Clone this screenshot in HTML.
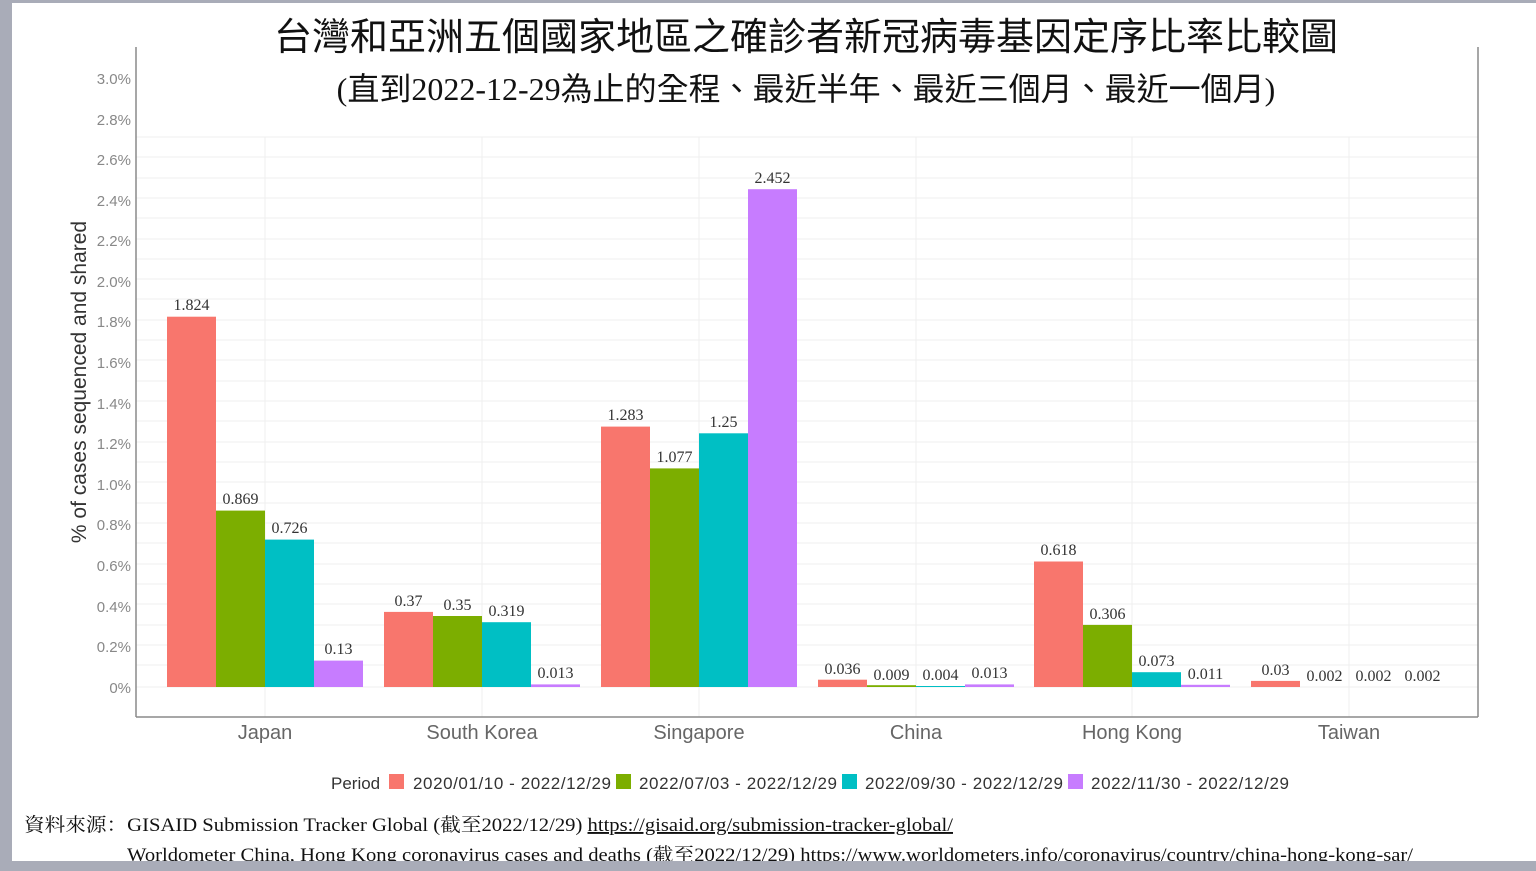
<!DOCTYPE html>
<html><head><meta charset="utf-8"><style>
html,body{margin:0;padding:0;background:#a9acb8;}
svg{display:block}
</style></head><body>
<svg width="1536" height="871" xmlns="http://www.w3.org/2000/svg">
<rect x="0" y="0" width="1536" height="871" fill="#a9acb8"/>
<rect x="12" y="3" width="1524" height="858" fill="#fff"/>
<g stroke="#efefef" stroke-width="1">
<line x1="136" x2="1478" y1="137" y2="137"/><line x1="136" x2="1478" y1="157" y2="157"/><line x1="136" x2="1478" y1="178" y2="178"/><line x1="136" x2="1478" y1="198" y2="198"/><line x1="136" x2="1478" y1="218" y2="218"/><line x1="136" x2="1478" y1="239" y2="239"/><line x1="136" x2="1478" y1="259" y2="259"/><line x1="136" x2="1478" y1="279" y2="279"/><line x1="136" x2="1478" y1="299" y2="299"/><line x1="136" x2="1478" y1="320" y2="320"/><line x1="136" x2="1478" y1="340" y2="340"/><line x1="136" x2="1478" y1="360" y2="360"/><line x1="136" x2="1478" y1="381" y2="381"/><line x1="136" x2="1478" y1="401" y2="401"/><line x1="136" x2="1478" y1="421" y2="421"/><line x1="136" x2="1478" y1="442" y2="442"/><line x1="136" x2="1478" y1="462" y2="462"/><line x1="136" x2="1478" y1="482" y2="482"/><line x1="136" x2="1478" y1="503" y2="503"/><line x1="136" x2="1478" y1="523" y2="523"/><line x1="136" x2="1478" y1="543" y2="543"/><line x1="136" x2="1478" y1="564" y2="564"/><line x1="136" x2="1478" y1="584" y2="584"/><line x1="136" x2="1478" y1="604" y2="604"/><line x1="136" x2="1478" y1="625" y2="625"/><line x1="136" x2="1478" y1="645" y2="645"/><line x1="136" x2="1478" y1="665" y2="665"/><line x1="136" x2="1478" y1="687" y2="687"/>
<line y1="137" y2="717" x1="265" x2="265"/><line y1="137" y2="717" x1="482" x2="482"/><line y1="137" y2="717" x1="699" x2="699"/><line y1="137" y2="717" x1="916" x2="916"/><line y1="137" y2="717" x1="1132" x2="1132"/><line y1="137" y2="717" x1="1349" x2="1349"/>
</g>
<g stroke="#8a8a8a" stroke-width="1.5" fill="none">
<line x1="136" y1="47" x2="136" y2="717"/><line x1="136" y1="717" x2="1478" y2="717"/><line x1="1478" y1="47" x2="1478" y2="717"/>
</g>
<g font-family="Liberation Sans, sans-serif" font-size="15" fill="#888" text-anchor="end">
<text x="131" y="84">3.0%</text><text x="131" y="125">2.8%</text><text x="131" y="165">2.6%</text><text x="131" y="206">2.4%</text><text x="131" y="246">2.2%</text><text x="131" y="287">2.0%</text><text x="131" y="327">1.8%</text><text x="131" y="368">1.6%</text><text x="131" y="409">1.4%</text><text x="131" y="449">1.2%</text><text x="131" y="490">1.0%</text><text x="131" y="530">0.8%</text><text x="131" y="571">0.6%</text><text x="131" y="612">0.4%</text><text x="131" y="652">0.2%</text><text x="131" y="693">0%</text>
</g>
<text transform="translate(86,382) rotate(-90)" font-family="Liberation Sans, sans-serif" font-size="21" fill="#333" text-anchor="middle">% of cases sequenced and shared</text>
<g>
<rect x="167" y="316.7" width="49" height="370.3" fill="#F8766D"/><rect x="216" y="510.6" width="49" height="176.4" fill="#7CAE00"/><rect x="265" y="539.6" width="49" height="147.4" fill="#00BFC4"/><rect x="314" y="660.6" width="49" height="26.4" fill="#C77CFF"/>
<rect x="384" y="611.9" width="49" height="75.1" fill="#F8766D"/><rect x="433" y="616" width="49" height="71" fill="#7CAE00"/><rect x="482" y="622.2" width="49" height="64.8" fill="#00BFC4"/><rect x="531" y="684.4" width="49" height="2.6" fill="#C77CFF"/>
<rect x="601" y="426.6" width="49" height="260.4" fill="#F8766D"/><rect x="650" y="468.4" width="49" height="218.6" fill="#7CAE00"/><rect x="699" y="433.3" width="49" height="253.7" fill="#00BFC4"/><rect x="748" y="189.2" width="49" height="497.8" fill="#C77CFF"/>
<rect x="818" y="679.7" width="49" height="7.3" fill="#F8766D"/><rect x="867" y="685.2" width="49" height="1.8" fill="#7CAE00"/><rect x="916" y="686" width="49" height="1" fill="#00BFC4"/><rect x="965" y="684.4" width="49" height="2.6" fill="#C77CFF"/>
<rect x="1034" y="561.5" width="49" height="125.5" fill="#F8766D"/><rect x="1083" y="624.9" width="49" height="62.1" fill="#7CAE00"/><rect x="1132" y="672.2" width="49" height="14.8" fill="#00BFC4"/><rect x="1181" y="684.8" width="49" height="2.2" fill="#C77CFF"/>
<rect x="1251" y="680.9" width="49" height="6.1" fill="#F8766D"/>
</g>
<g font-family="Liberation Serif, serif" font-size="16" fill="#333" text-anchor="middle">
<text x="191.5" y="310">1.824</text><text x="240.5" y="504">0.869</text><text x="289.5" y="533">0.726</text><text x="338.5" y="654">0.13</text>
<text x="408.5" y="606">0.37</text><text x="457.5" y="610">0.35</text><text x="506.5" y="616">0.319</text><text x="555.5" y="678">0.013</text>
<text x="625.5" y="420">1.283</text><text x="674.5" y="462">1.077</text><text x="723.5" y="427">1.25</text><text x="772.5" y="183">2.452</text>
<text x="842.5" y="674">0.036</text><text x="891.5" y="680">0.009</text><text x="940.5" y="680">0.004</text><text x="989.5" y="678">0.013</text>
<text x="1058.5" y="555">0.618</text><text x="1107.5" y="619">0.306</text><text x="1156.5" y="666">0.073</text><text x="1205.5" y="679">0.011</text>
<text x="1275.5" y="675">0.03</text><text x="1324.5" y="681">0.002</text><text x="1373.5" y="681">0.002</text><text x="1422.5" y="681">0.002</text>
</g>
<g font-family="Liberation Sans, sans-serif" font-size="20" fill="#666" text-anchor="middle">
<text x="265" y="739">Japan</text><text x="482" y="739">South Korea</text><text x="699" y="739">Singapore</text><text x="916" y="739">China</text><text x="1132" y="739">Hong Kong</text><text x="1349" y="739">Taiwan</text>
</g>
<text x="806" y="50" font-family="Liberation Sans, Noto Sans CJK TC, sans-serif" font-size="38" fill="#111" text-anchor="middle">台灣和亞洲五個國家地區之確診者新冠病毒基因定序比率比較圖</text>
<text x="806" y="100" font-family="Liberation Serif, Noto Sans CJK TC, sans-serif" font-size="32" fill="#111" text-anchor="middle">(直到2022-12-29為止的全程、最近半年、最近三個月、最近一個月)</text>
<g font-family="Liberation Sans, sans-serif" font-size="17" fill="#333">
<text x="331" y="789">Period</text>
<rect x="389" y="774" width="15" height="15" fill="#F8766D"/><text x="413" y="789" textLength="198">2020/01/10 - 2022/12/29</text>
<rect x="616" y="774" width="15" height="15" fill="#7CAE00"/><text x="639" y="789" textLength="198">2022/07/03 - 2022/12/29</text>
<rect x="842" y="774" width="15" height="15" fill="#00BFC4"/><text x="865" y="789" textLength="198">2022/09/30 - 2022/12/29</text>
<rect x="1068" y="774" width="15" height="15" fill="#C77CFF"/><text x="1091" y="789" textLength="198">2022/11/30 - 2022/12/29</text>
</g>
<g font-family="Liberation Serif, Noto Serif CJK SC, serif" font-size="19" fill="#111">
<text x="24" y="831" textLength="929" lengthAdjust="spacingAndGlyphs">資料來源：GISAID Submission Tracker Global (截至2022/12/29) <tspan text-decoration="underline">https://gisaid.org/submission-tracker-global/</tspan></text>
<text x="127" y="861" textLength="1286" lengthAdjust="spacingAndGlyphs">Worldometer China, Hong Kong coronavirus cases and deaths (截至2022/12/29) https://www.worldometers.info/coronavirus/country/china-hong-kong-sar/</text>
</g>
<rect x="0" y="861" width="1536" height="10" fill="#a9acb8"/>
</svg>
</body></html>
